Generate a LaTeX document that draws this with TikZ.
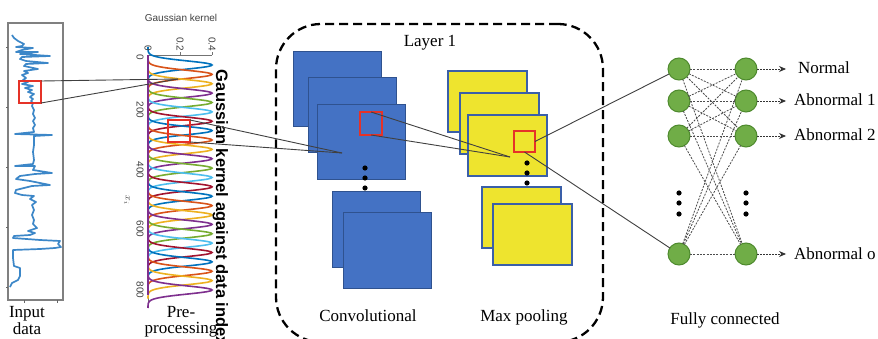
\documentclass[tikz,border=0pt]{standalone}
\usepackage{fontspec}
\setmainfont{Liberation Serif}
\setsansfont{Liberation Sans}
\usetikzlibrary{arrows.meta}

\definecolor{convfill}{HTML}{4472C4}
\definecolor{convline}{HTML}{2F528F}
\definecolor{poolfill}{HTML}{EEE42E}
\definecolor{poolline}{HTML}{3A5FA8}
\definecolor{boxred}{HTML}{E53228}
\definecolor{linkgray}{HTML}{404040}
\definecolor{nodefill}{HTML}{70AD47}
\definecolor{nodeline}{HTML}{4E8A2E}
\definecolor{sigblue}{HTML}{3C87C8}
\definecolor{gk0}{rgb}{0,0.447,0.741}
\definecolor{gk1}{rgb}{0.85,0.325,0.098}
\definecolor{gk2}{rgb}{0.929,0.694,0.125}
\definecolor{gk3}{rgb}{0.494,0.184,0.556}
\definecolor{gk4}{rgb}{0.466,0.674,0.188}
\definecolor{gk5}{rgb}{0.301,0.745,0.933}
\definecolor{gk6}{rgb}{0.635,0.078,0.184}

\begin{document}
\begin{tikzpicture}[x=1pt,y=-1pt,
  every node/.style={inner sep=0pt, outer sep=0pt},
  lbl/.style={font=\fontsize{17}{20}\selectfont, text=black, anchor=base},
  axlbl/.style={font=\sffamily\fontsize{10}{12}\selectfont, text=black!75},
  convrect/.style={draw=convline, fill=convfill, line width=1pt, anchor=north west,
    minimum width=88pt, minimum height=75pt},
  poolrect/.style={draw=poolline, fill=poolfill, line width=1.3pt, anchor=north west,
    minimum width=79pt, minimum height=61pt},
  redbox/.style={draw=boxred, line width=1.9pt, anchor=north west,
    minimum width=22pt, minimum height=22pt},
  link/.style={draw=linkgray, line width=0.9pt},
  neuron/.style={circle, draw=nodeline, fill=nodefill, line width=1pt, minimum size=22pt},
  fcline/.style={draw=black!70, line width=0.8pt, dash pattern=on 2pt off 1.3pt},
  outarrow/.style={draw=black!80, line width=0.8pt, dash pattern=on 2pt off 1pt,
    -{Stealth[length=7pt,width=6pt]}},
  frame/.style={draw=black!50, line width=1.2pt},
]
\useasboundingbox (0,0) rectangle (878,339);
\clip (0,0) rectangle (878,339);
\fill[white] (0,0) rectangle (878,339);

% ---------- input signal panel ----------
\node[frame, anchor=north west, minimum width=55pt, minimum height=277pt] (inbox) at (8,23) {};
\foreach \t in {48,108,168,228,287} \draw[black!60, line width=1pt] (8,\t) -- (5.5,\t);
\foreach \t in {24,57} \draw[black!60, line width=1pt] (\t,300) -- (\t,302.5);
\draw[sigblue, line width=1.7pt, line join=round] plot coordinates {
 (12,35) (14,38) (18,41) (24,44) (22,46) (16,47) (33,48) (22,50) (16,52) (38,52)
 (20,54) (50,56) (22,57) (20,59) (26,61) (48,63) (26,64) (24,66) (38,69) (24,71)
 (28,73) (22,75) (26,78) (23,80) (28,82) (22,84) (33,86) (25,88) (32,90) (28,92)
 (34,94) (30,97) (33,99) (31,101) (33,103) (32,106) (34,110) (33,114) (35,118)
 (33,121) (35,125) (33,128) (34,132) (15,134) (52,135) (34,136) (34,145) (33,152)
 (34,160) (33,164) (15,166) (35,166) (33,170) (52,173) (35,174) (20,176) (16,179)
 (30,181) (50,185) (32,186) (16,190) (15,193) (22,195) (34,196) (30,199) (36,202)
 (32,205) (34,210) (32,215) (34,220) (33,224) (37,228) (28,231) (35,233) (30,235)
 (14,236) (13,238) (40,240) (60,241) (58,244) (61,247) (55,248) (40,249) (13,250)
 (13,258) (14,266) (20,268) (20,276) (18,280) (12,283) (10,287)};
\node[redbox] (rb1) at (19,81) {};
\node[lbl] (indata1) at (27,317) {Input};
\node[lbl] (indata2) at (27,334) {data};

% ---------- Gaussian kernel panel ----------
\draw[black!55, line width=0.9pt] (148,55) -- (212,55);
\draw[black!55, line width=0.9pt] (180,55) -- (180,52.5) (212,55) -- (212,52.5);
\draw[black!55, line width=0.9pt] (148,290) -- (148,302);
\foreach \k in {0,...,24} {
  \pgfmathsetmacro\cc{65+\k*9.375}
  \pgfmathtruncatemacro\m{mod(\k,7)}
  \draw[gk\m, line width=1.6pt] plot[domain=\cc-18:\cc+18, samples=49, smooth]
    ({148+64*exp(-((\x-\cc)^2)/34)},\x);
}
\draw[gk3, line width=1.4pt] (148,55) -- (148,295);
\node[axlbl] (gtitle) at (181,18) {Gaussian kernel};
\node[axlbl, rotate=-90, anchor=east] (gx0) at (148,51) {0};
\node[axlbl, rotate=-90, anchor=east] (gx2) at (180,51) {0.2};
\node[axlbl, rotate=-90, anchor=east] (gx4) at (212,51) {0.4};
\foreach \v/\p in {0/57,200/110,400/170,600/229,800/290}
  \node[axlbl, rotate=-90, anchor=north] (gy\v) at (143.5,\p) {\v};
\node[axlbl, rotate=-90] (gxi) at (127,200) {$x_i$};
\node[font=\sffamily\bfseries\fontsize{16.5}{18}\selectfont, rotate=-90, anchor=base west]
  (gside) at (216,70) {Gaussian kernel against data index};
\node[redbox] (rb2) at (168,120) {};
\node[lbl] (pre1) at (181,317) {Pre-};
\node[lbl] (pre2) at (181,333) {processing};

% ---------- layer 1 ----------
\node[draw=black, line width=2.3pt, dash pattern=on 9pt off 5pt, rounded corners=45pt,
  anchor=north west, minimum width=327pt, minimum height=318pt] (layer) at (276,24) {};
\node[lbl] (layertitle) at (430,47) {Layer 1};

\node[convrect] (c1) at (293,52) {};
\node[convrect] (c2) at (308,78) {};
\node[convrect] (c3) at (317,105) {};
\node[convrect] (c4) at (332,192) {};
\node[convrect] (c5) at (343,213) {};
\foreach \t in {168,178,188} \fill (365,\t) circle (2.6pt);
\node[redbox, minimum height=23pt] (rb3) at (360,112) {};
\node[lbl] (convlbl) at (368,321) {Convolutional};

\node[poolrect] (p1) at (448,71) {};
\node[poolrect] (p2) at (460,93) {};
\node[poolrect] (p3) at (468,115) {};
\node[poolrect] (p4) at (482,187) {};
\node[poolrect] (p5) at (493,204) {};
\foreach \t in {163,173,183} \fill (527,\t) circle (2.6pt);
\node[redbox, minimum width=21pt, minimum height=21pt] (rb4) at (514,131) {};
\node[lbl] (poollbl) at (524,321) {Max pooling};

% ---------- fully connected ----------
\node[neuron] (l1) at (679,69) {};
\node[neuron] (l2) at (679,101) {};
\node[neuron] (l3) at (679,136) {};
\node[neuron] (l4) at (679,254) {};
\node[neuron] (r1) at (746,69) {};
\node[neuron] (r2) at (746,101) {};
\node[neuron] (r3) at (746,136) {};
\node[neuron] (r4) at (746,254) {};
\foreach \i in {1,...,4} \foreach \j in {1,...,4} \draw[fcline] (l\i) -- (r\j);
\foreach \t in {193,203,214} { \fill (679,\t) circle (2.6pt); \fill (746,\t) circle (2.6pt); }

\coordinate (o1) at (786,69);
\coordinate (o2) at (786,101);
\coordinate (o3) at (786,136);
\coordinate (o4) at (786,254);
\foreach \i in {1,...,4} \draw[outarrow] (r\i) -- (o\i);
\node[lbl, anchor=base west] (out1) at (798,74) {Normal};
\node[lbl, anchor=base west] (out2) at (794,106) {Abnormal 1};
\node[lbl, anchor=base west] (out3) at (794,141) {Abnormal 2};
\node[lbl, anchor=base west] (out4) at (794,259) {Abnormal o};
\node[lbl] (fclbl) at (725,324) {Fully connected};

% ---------- connectors between stages ----------
\coordinate (q1) at (178,79);
\coordinate (q2) at (342,153);
\coordinate (q3) at (510,157);
\draw[link] (rb1.north east) -- (q1);
\draw[link] (rb1.south east) -- (q1);
\draw[link] (rb2.north east) -- (q2);
\draw[link] (rb2.south east) -- (q2);
\draw[link] (rb3.north) -- (q3);
\draw[link] (rb3.south) -- (q3);
\draw[link] (rb4.east) -- (l1);
\draw[link] (rb4.south) -- (l4);
\end{tikzpicture}
\end{document}
